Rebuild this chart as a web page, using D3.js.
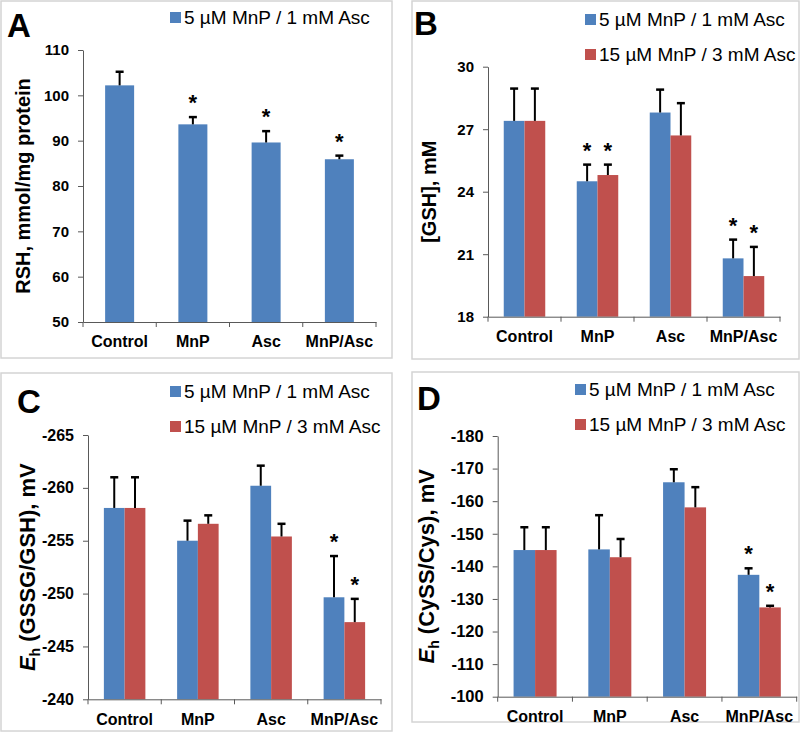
<!DOCTYPE html>
<html>
<head>
<meta charset="utf-8">
<script src="https://cdn.jsdelivr.net/npm/d3@7"></script>
<style>
  html, body { margin: 0; padding: 0; background: #fff; }
  svg { display: block; font-family: "Liberation Sans", Arial, sans-serif; }
</style>
</head>
<body>
<svg id="chart" width="800" height="732"></svg>
<script>
// ---------------- DATA ----------------
const categories = ["Control", "MnP", "Asc", "MnP/Asc"];
const seriesNames = ["5 µM MnP / 1 mM Asc", "15 µM MnP / 3 mM Asc"];

// Panel A: RSH, mmol/mg protein (single series)
const rshMean = [102.2, 93.6, 89.6, 85.9];
const rshErr  = [3.0, 1.6, 2.5, 0.8];
const rshSig  = [false, true, true, true];
const rshTicks = [50, 60, 70, 80, 90, 100, 110];

// Panel B: [GSH], mM
const gshLow      = [27.4, 24.5, 27.8, 20.8];
const gshLowErr   = [1.55, 0.8, 1.1, 0.9];
const gshLowSig   = [false, true, false, true];
const gshHigh     = [27.4, 24.8, 26.7, 19.95];
const gshHighErr  = [1.55, 0.5, 1.55, 1.4];
const gshHighSig  = [false, true, false, true];
const gshTicks = [18, 21, 24, 27, 30];

// Panel C: Eh (GSSG/GSH), mV
const ehGshLow     = [-258.1, -255.0, -260.2, -249.65];
const ehGshLowErr  = [2.9, 1.9, 1.9, 3.9];
const ehGshLowSig  = [false, false, false, true];
const ehGshHigh    = [-258.1, -256.6, -255.4, -247.3];
const ehGshHighErr = [2.9, 0.8, 1.2, 2.2];
const ehGshHighSig = [false, false, false, true];
const ehGshTicks = [-265, -260, -255, -250, -245, -240];

// Panel D: Eh (CySS/Cys), mV
const ehCysLow     = [-145.0, -145.2, -165.8, -137.4];
const ehCysLowErr  = [7.0, 10.5, 4.0, 2.0];
const ehCysLowSig  = [false, false, false, true];
const ehCysHigh    = [-145.0, -142.8, -158.1, -127.4];
const ehCysHighErr = [7.0, 5.6, 6.2, 0.5];
const ehCysHighSig = [false, false, false, true];
const ehCysTicks = [-180, -170, -160, -150, -140, -130, -120, -110, -100];

const colors = ["#4F81BD", "#C0504D"];

// ---------------- DRAWING ----------------
const svg = d3.select("#chart");
const FONT = '"Liberation Sans", Arial, sans-serif';

function panel(cfg) {
  const g = svg.append("g");
  // border
  g.append("rect")
    .attr("x", cfg.box[0]).attr("y", cfg.box[1])
    .attr("width", cfg.box[2]).attr("height", cfg.box[3])
    .attr("fill", "none").attr("stroke", "#d4d4d4").attr("stroke-width", 1.5);

  const x = d3.scaleBand().domain(categories).range([cfg.x0, cfg.x1]).paddingInner(0).paddingOuter(0);
  const y = d3.scaleLinear().domain(cfg.domain).range([cfg.yBottom, cfg.yTop]);
  const nS = cfg.series.length;
  const groupW = cfg.groupW;
  const xs = d3.scaleBand().domain(d3.range(nS)).range([0, groupW]);

  // bars
  cfg.series.forEach((s, si) => {
    const gx = d => x(d.cat) + x.bandwidth() / 2 - groupW / 2 + xs(si);
    const rows = categories.map((c, i) => ({cat: c, v: s.mean[i], e: s.err[i], sig: s.sig[i]}));
    g.selectAll(null).data(rows).enter().append("rect")
      .attr("x", d => gx(d))
      .attr("y", d => y(d.v))
      .attr("width", xs.bandwidth())
      .attr("height", d => cfg.yBottom - y(d.v))
      .attr("fill", colors[si]);
    // error bars (upward)
    rows.forEach(d => {
      const cx = gx(d) + xs.bandwidth() / 2;
      const y0 = y(d.v);
      const top = y0 - Math.abs(y(d.v + d.e) - y0);
      g.append("line").attr("x1", cx).attr("x2", cx).attr("y1", y0).attr("y2", top)
        .attr("stroke", "#000").attr("stroke-width", 2);
      g.append("line").attr("x1", cx - 4).attr("x2", cx + 4).attr("y1", top).attr("y2", top)
        .attr("stroke", "#000").attr("stroke-width", 2.5);
      if (d.sig) {
        g.append("text").attr("x", cx).attr("y", top - 7)
          .attr("text-anchor", "middle")
          .attr("font-family", FONT).attr("font-weight", "bold").attr("font-size", 22)
          .text("*");
      }
    });
  });

  // y axis
  const ya = g.append("g").attr("transform", `translate(${cfg.x0},0)`)
    .call(d3.axisLeft(y).tickValues(cfg.ticks).tickSize(5).tickPadding(9).tickSizeOuter(0).tickFormat(d3.format("d")));
  ya.select(".domain").attr("stroke", "#595959");
  ya.selectAll(".tick line").attr("stroke", "#595959");
  ya.selectAll("text").attr("font-family", FONT).attr("font-weight", "bold").attr("font-size", cfg.tickSize).attr("fill", "#000")
    .text(d => d < 0 ? "-" + Math.abs(d) : d);

  // x axis line and boundary ticks
  const xa = g.append("g").attr("transform", `translate(0,${cfg.yBottom})`)
    .call(d3.axisBottom(x).tickSize(0).tickPadding(14).tickSizeOuter(0));
  xa.select(".domain").attr("stroke", "#595959");
  xa.selectAll("text").attr("font-family", FONT).attr("font-weight", "bold").attr("font-size", 16).attr("fill", "#000");
  const bounds = d3.range(categories.length + 1).map(i => cfg.x0 + i * x.step());
  xa.selectAll(".bt").data(bounds).enter().append("line")
    .attr("x1", d => d).attr("x2", d => d).attr("y1", 0).attr("y2", 5)
    .attr("stroke", "#595959");

  // y title
  const t = g.append("text")
    .attr("transform", `translate(${cfg.titleX},${(cfg.yTop + cfg.yBottom) / 2}) rotate(-90)`)
    .attr("text-anchor", "middle")
    .attr("font-family", FONT).attr("font-weight", "bold").attr("font-size", cfg.titleSize);
  cfg.title(t);

  // panel letter
  g.append("text").attr("x", cfg.letterX).attr("y", cfg.letterY)
    .attr("font-family", FONT).attr("font-weight", "bold").attr("font-size", 33)
    .text(cfg.letter);

  // legend
  cfg.series.forEach((s, si) => {
    const ly = cfg.legendY + si * cfg.legendGap;
    g.append("rect").attr("x", cfg.legendX).attr("y", ly - 12).attr("width", 11).attr("height", 11)
      .attr("fill", colors[si]);
    g.append("text").attr("x", cfg.legendX + 14).attr("y", ly)
      .attr("font-family", FONT).attr("font-size", 19).attr("fill", "#000")
      .text(s.name);
  });
}

function ehTitle(rest) {
  return t => {
    t.append("tspan").attr("font-style", "italic").text("E");
    t.append("tspan").attr("font-size", 14).attr("dy", 5).text("h");
    t.append("tspan").attr("dy", -5).text(" " + rest);
  };
}

panel({
  letter: "A", letterX: 7, letterY: 37,
  box: [1, 1, 391, 357],
  x0: 83, x1: 376, yTop: 50, yBottom: 322, domain: [50, 110], ticks: rshTicks, tickSize: 15,
  groupW: 29,
  series: [{name: seriesNames[0], mean: rshMean, err: rshErr, sig: rshSig}],
  titleX: 30, titleSize: 20,
  title: t => t.text("RSH, mmol/mg protein"),
  legendX: 170, legendY: 24, legendGap: 35
});

panel({
  letter: "B", letterX: 414, letterY: 35,
  box: [412, 1, 387, 358],
  x0: 488, x1: 780, yTop: 66.7, yBottom: 316.7, domain: [18, 30], ticks: gshTicks, tickSize: 15,
  groupW: 41.5,
  series: [
    {name: seriesNames[0], mean: gshLow, err: gshLowErr, sig: gshLowSig},
    {name: seriesNames[1], mean: gshHigh, err: gshHighErr, sig: gshHighSig}
  ],
  titleX: 436, titleSize: 20,
  title: t => t.text("[GSH], mM"),
  legendX: 585, legendY: 26, legendGap: 35
});

panel({
  letter: "C", letterX: 17, letterY: 413,
  box: [1, 373, 391, 358],
  x0: 88, x1: 381, yTop: 435, yBottom: 699.3, domain: [-240, -265], ticks: ehGshTicks, tickSize: 16,
  groupW: 41.5,
  series: [
    {name: seriesNames[0], mean: ehGshLow, err: ehGshLowErr, sig: ehGshLowSig},
    {name: seriesNames[1], mean: ehGshHigh, err: ehGshHighErr, sig: ehGshHighSig}
  ],
  titleX: 35, titleSize: 22,
  title: ehTitle("(GSSG/GSH), mV"),
  legendX: 170, legendY: 398, legendGap: 35
});

panel({
  letter: "D", letterX: 417, letterY: 410,
  box: [412, 372, 387, 350],
  x0: 497.7, x1: 796.7, yTop: 436, yBottom: 696.7, domain: [-100, -180], ticks: ehCysTicks, tickSize: 16.5,
  groupW: 43,
  series: [
    {name: seriesNames[0], mean: ehCysLow, err: ehCysLowErr, sig: ehCysLowSig},
    {name: seriesNames[1], mean: ehCysHigh, err: ehCysHighErr, sig: ehCysHighSig}
  ],
  titleX: 434, titleSize: 22,
  title: ehTitle("(CySS/Cys), mV"),
  legendX: 575, legendY: 396, legendGap: 35
});
</script>
</body>
</html>
